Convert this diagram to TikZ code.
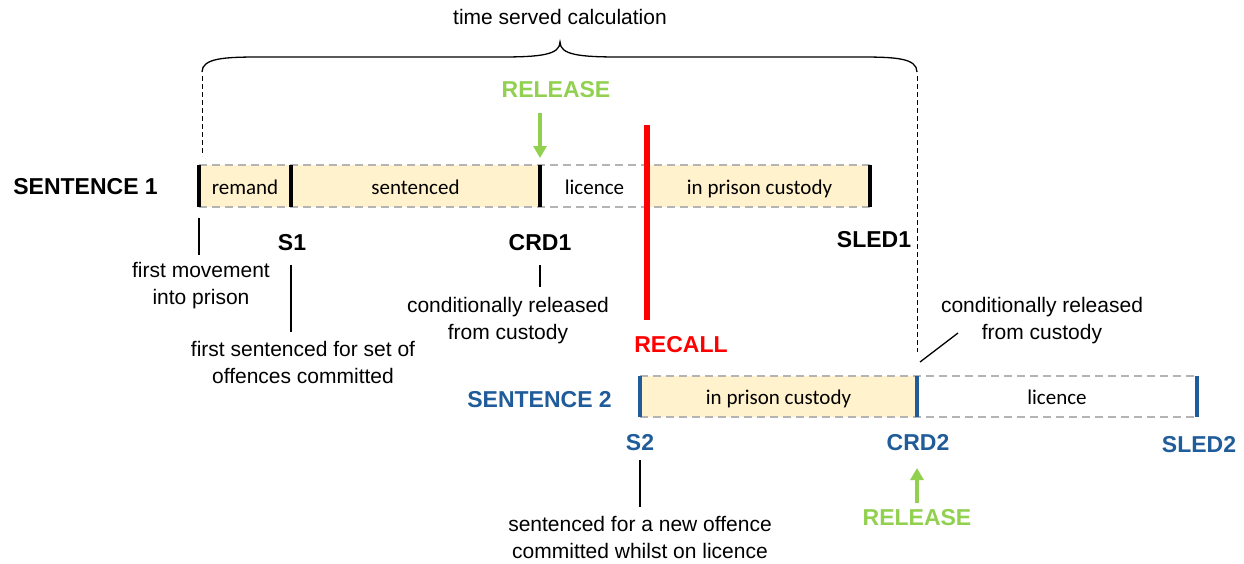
\documentclass[tikz,border=0pt]{standalone}
\usepackage{fontspec}
\setmainfont{Liberation Sans}
\newfontfamily\calibri{Carlito}
\usetikzlibrary{arrows.meta,positioning}
\definecolor{custody}{HTML}{FFF2CC}
\definecolor{sentblue}{HTML}{1F5C99}
\definecolor{relgreen}{HTML}{92D050}
\definecolor{recallred}{HTML}{FF0000}
\definecolor{edgegray}{HTML}{B4B4B4}

\begin{document}
\begin{tikzpicture}[x=1pt,y=-1pt]
        \tikzstyle{every node}=[font=\fontsize{21}{27}\selectfont,inner sep=0pt,align=center]
        \tikzstyle{period}=[font=\calibri\fontsize{21}{25}\selectfont,anchor=base]
        \tikzstyle{datelabel}=[font=\bfseries\fontsize{23}{27}\selectfont]
        \tikzstyle{leader}=[line width=1.3pt]
        \tikzstyle{edge}=[edgegray,line width=1.3pt,dash pattern=on 8pt off 5pt]
        \tikzstyle{limit}=[black,line width=1pt,dash pattern=on 5pt off 3pt]
        \tikzstyle{relarrow}=[relgreen,line width=3.5pt,-{Triangle[width=13pt,length=12pt]}]
        \useasboundingbox (0,0) rectangle (1244,563);

        % time served calculation
        \node (title) at (560,17) {time served calculation};
        \coordinate (tsl) at (202,72);
        \coordinate (tsr) at (917,72);
        \draw[line width=1.3pt] (tsl) .. controls (202,58) and (225,57) .. (260,57) -- (500,57)
            .. controls (540,57) and (560,55) .. (560,42)
            .. controls (560,55) and (580,57) .. (620,57) -- (860,57)
            .. controls (895,57) and (917,58) .. (tsr);
        \draw[limit] (tsl) ++(0,4) -- (202,156);
        \draw[limit] (tsr) ++(0,4) -- (917,352);

        % sentence 1
        \begin{scope}
            \fill[custody] (199,165) rectangle (540,207);
            \fill[custody] (649,165) rectangle (870,207);
            \draw[edge] (199,165) -- (870,165) (199,207) -- (870,207);
            \foreach \x in {199,291,540,870}{
                \draw[line width=3.5pt] (\x,165) -- (\x,207);
            }
            \node[datelabel,anchor=east] (sent1) at (158,187) {SENTENCE 1};
            \node[period] (remand) at (245,194) {remand};
            \node[period] (sentenced) at (415.5,194) {sentenced};
            \node[period] (licence1) at (594.5,194) {licence};
            \node[period] (custody1) at (759.5,194) {in prison custody};

            \node[datelabel] (s1) at (292,243) {S1};
            \node[datelabel] (crd1) at (540,243) {CRD1};
            \node[datelabel] (sled1) at (874,240) {SLED1};

            \node (firstmove) at (201,286) {first movement\\into prison};
            \node (firstsent) at (303,362) {first sentenced for set of\\offences committed};
            \node (condrel1) at (508,321) {conditionally released\\from custody};

            \coordinate (in1) at (199,218);
            \draw[leader,shorten >=8pt] (in1) -- (in1 |- firstmove.north);
            \draw[leader,shorten <=14pt,shorten >=9pt] (s1.south -| 291,0) -- (firstsent.north -| 291,0);
            \draw[leader,shorten <=14pt,shorten >=11pt] (crd1.south) -- (crd1.south |- condrel1.north);

            \node[font=\bfseries\fontsize{23}{27}\selectfont,relgreen] (rel1) at (556,90) {RELEASE};
            \coordinate (crd1top) at (540,158);
            \draw[relarrow,shorten <=15pt] (crd1top |- rel1.south) -- (crd1top);
        \end{scope}

        % recall
        \node[font=\bfseries\fontsize{23}{27}\selectfont,recallred] (recall) at (681,345) {RECALL};
        \draw[recallred,line width=5.3pt] (647,125) -- (647,320);

        % sentence 2
        \begin{scope}[sentblue]
            \fill[custody] (640,376) rectangle (917,417);
            \draw[edge] (640,376) -- (1197,376) (640,417) -- (1197,417);
            \foreach \x in {640,917,1197}{
                \draw[line width=3.5pt] (\x,376) -- (\x,417);
            }
            \node[datelabel,anchor=east] (sent2) at (612,400) {SENTENCE 2};
            \node[period,black] (custody2) at (778.5,404) {in prison custody};
            \node[period,black] (licence2) at (1057,404) {licence};

            \node[datelabel] (s2) at (640,443) {S2};
            \node[datelabel] (crd2) at (918,443) {CRD2};
            \node[datelabel] (sled2) at (1199,445) {SLED2};

            \node[black] (newoff) at (640,537) {sentenced for a new offence\\committed whilst on licence};
            \draw[leader,black,shorten <=9pt,shorten >=9pt] (s2.south) -- (s2.south |- newoff.north);

            \node[black] (condrel2) at (1042,321) {conditionally released\\from custody};
            \coordinate (slashlow) at (920,362);
            \coordinate (slashhigh) at (958,333);
            \draw[leader,black] (slashlow) -- (slashhigh);

            \node[font=\bfseries\fontsize{23}{27}\selectfont,relgreen] (rel2) at (917,518) {RELEASE};
            \coordinate (crd2foot) at (917,468);
            \draw[relarrow,shorten <=7pt] (rel2.north) -- (crd2foot);
        \end{scope}
\end{tikzpicture}
\end{document}
